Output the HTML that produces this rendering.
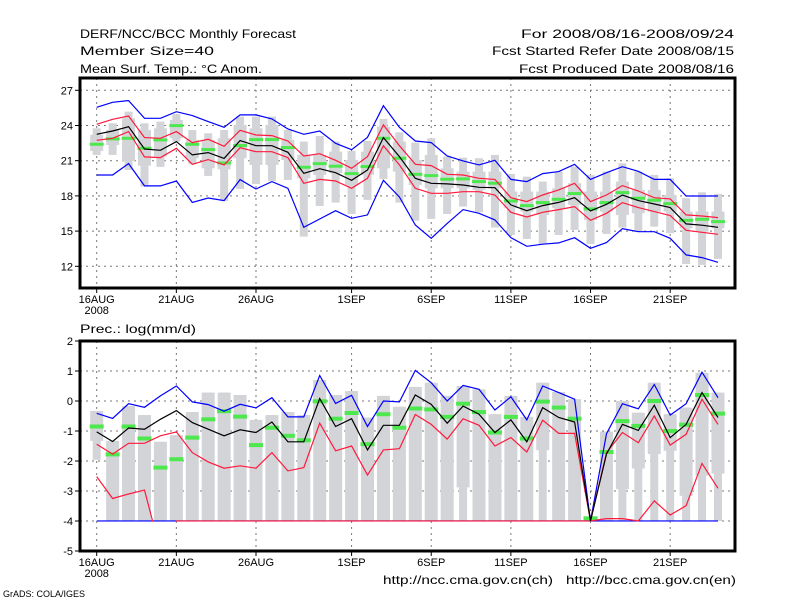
<!DOCTYPE html>
<html><head><meta charset="utf-8"><style>
html,body{margin:0;padding:0;background:#fff;}
svg{display:block;font-family:"Liberation Sans",sans-serif;}
</style></head><body>
<svg id="chart" width="800" height="600" viewBox="0 0 800 600">
<rect width="800" height="600" fill="#fff"/>
<g font-size="12" fill="#000">
<text x="80" y="38" textLength="216" lengthAdjust="spacingAndGlyphs">DERF/NCC/BCC Monthly Forecast</text>
<text x="80" y="55" textLength="134" lengthAdjust="spacingAndGlyphs">Member Size=40</text>
<text x="80" y="73" textLength="182" lengthAdjust="spacingAndGlyphs">Mean Surf. Temp.: °C Anom.</text>
<text x="521" y="38" textLength="213" lengthAdjust="spacingAndGlyphs">For 2008/08/16-2008/09/24</text>
<text x="492" y="55" textLength="242" lengthAdjust="spacingAndGlyphs">Fcst Started Refer Date 2008/08/15</text>
<text x="519" y="73" textLength="215" lengthAdjust="spacingAndGlyphs">Fcst Produced Date 2008/08/16</text>
<text x="80" y="333" textLength="116" lengthAdjust="spacingAndGlyphs">Prec.: log(mm/d)</text>
<text x="383" y="584" textLength="170" lengthAdjust="spacingAndGlyphs">http://ncc.cma.gov.cn(ch)</text>
<text x="566" y="584" textLength="170" lengthAdjust="spacingAndGlyphs">http://bcc.cma.gov.cn(en)</text>
<text x="3" y="597" font-size="9">GrADS: COLA/IGES</text>
</g>
<g id="topPanel"></g>
<g id="botPanel"></g>
</svg>
<script>
// ---- x axis ----
const dayLabels = ["16AUG","21AUG","26AUG","1SEP","6SEP","11SEP","16SEP","21SEP"];
const dayLabelIdx = [0,5,10,16,21,26,31,36];
const nDays = 40;
// ---- top panel (temperature) ----
const tTicks = [27,24,21,18,15,12];
const tMean = [23.25,23.53,23.9,22.0,21.89,22.63,21.49,21.69,21.2,22.71,22.28,22.28,21.72,19.93,20.32,19.98,19.33,20.21,22.97,21.35,19.5,19.07,19.02,18.93,18.73,18.7,17.23,16.74,17.17,17.45,17.85,16.72,17.28,18.08,17.6,17.31,17.0,15.61,15.5,15.32];
const tRedHi = [24.1,24.53,24.81,22.97,22.91,23.48,22.54,22.82,22.23,23.59,23.19,23.14,22.68,21.4,21.6,21.03,20.35,21.35,24.05,22.28,20.69,20.58,19.84,19.78,19.5,19.41,17.85,17.51,18.08,18.51,19.07,17.51,18.08,18.88,18.42,17.85,17.74,16.38,16.29,16.15];
const tRedLo = [22.74,22.91,23.48,21.32,21.26,22.06,20.69,21.09,20.64,22.11,21.77,21.77,21.26,19.07,19.41,19.27,18.65,19.5,22.28,20.64,18.65,18.22,18.22,18.36,18.36,18.08,16.6,16.2,16.6,16.83,17.09,15.92,16.52,17.43,17.0,16.66,16.32,15.07,14.9,14.73];
const tBlueHi = [25.55,25.98,26.12,24.61,24.61,25.18,24.84,24.33,23.85,24.9,24.9,24.56,23.7,23.25,23.53,22.48,21.94,22.99,25.69,23.85,22.68,22.54,21.4,20.98,20.64,21.03,19.41,19.22,19.9,20.07,20.69,19.41,19.98,20.49,20.1,19.41,19.41,17.99,17.99,17.99];
const tBlueLo = [19.78,19.78,20.75,18.85,18.85,19.27,17.45,17.82,17.6,19.39,18.59,19.22,18.65,15.32,16.03,16.74,16.09,16.38,19.33,17.91,15.52,14.39,15.66,16.83,16.52,15.95,14.44,13.7,13.88,13.99,14.44,13.53,14.02,15.21,14.95,14.95,14.39,12.97,12.74,12.34];
const tWhiskHi = [23.76,24.19,25.18,24.19,24.33,24.96,23.62,23.34,23.62,24.76,24.76,24.76,23.62,22.63,23.11,22.63,21.83,22.68,24.56,23.42,22.54,22.91,21.35,21.26,21.21,21.49,19.87,19.64,19.22,20.07,20.5,19.79,20.07,20.78,20.07,19.79,19.5,17.8,18.31,18.17];
const tWhiskLo = [21.49,21.49,20.21,18.79,20.47,22.63,20.7,19.7,17.57,18.59,19.02,19.28,19.36,14.53,17.14,17.43,16.46,17.66,19.45,17.43,15.89,16.04,16.46,17.09,16.6,15.3,14.67,14.33,13.88,14.67,15.1,13.91,14.76,15.3,15.01,15.38,14.82,12.2,12.12,12.63];
const tBoxHi = [23.2,23.62,24.62,23.62,23.76,24.47,22.77,22.77,22.91,24.05,23.76,24.05,22.77,21.49,21.49,21.77,21.06,21.77,23.91,22.63,21.06,21.49,20.35,20.07,20.07,20.07,18.37,18.37,18.37,18.65,19.08,18.37,18.37,19.22,18.51,18.51,18.08,16.66,16.66,16.66];
const tBoxLo = [21.83,22.34,20.98,20.58,21.35,22.91,21.21,20.35,20.27,21.21,20.64,20.64,21.06,19.5,19.79,19.93,18.93,19.79,20.35,20.07,18.93,18.65,18.65,18.65,18.51,18.65,16.95,16.66,16.38,16.95,17.23,15.95,16.66,16.38,16.52,16.66,16.66,15.24,14.96,15.24];
const tMedian = [22.4,22.86,22.91,22.06,22.77,23.99,22.4,21.95,20.81,22.29,22.8,22.8,22.12,20.44,20.75,20.53,19.9,20.5,22.91,21.21,19.84,19.73,19.42,19.45,19.22,19.08,17.57,17.17,17.43,17.71,18.2,16.89,17.43,18.28,17.8,17.63,17.34,15.92,16.01,15.81];
// ---- bottom panel (precip) ----
const pTicks = [2,1,0,-1,-2,-3,-4,-5];
const pMean = [-1.03,-1.35,-0.9,-0.94,-0.61,-0.32,-0.72,-0.94,-1.16,-0.96,-1.05,-0.7,-1.36,-1.36,0.08,-0.85,-0.59,-1.63,-0.81,-0.81,0.2,-0.11,-0.74,-0.17,-0.44,-1.05,-0.63,-1.36,-0.22,-0.55,-0.7,-4.0,-1.77,-0.78,-0.98,-0.14,-1.22,-0.78,0.28,-0.55];
const pBlueHi = [-0.41,-0.58,-0.09,-0.21,0.17,0.5,-0.03,-0.12,-0.34,-0.11,-0.23,0.11,-0.53,-0.53,0.85,-0.08,0.19,-0.85,0,-0.03,1.02,0.61,0,0.52,0.39,-0.3,0.14,-0.63,0.5,0.28,0.06,-4,-1.09,-0.09,-0.26,0.55,-0.47,-0.09,0.96,0.11];
const pRedHi = [-1.44,-1.77,-1.41,-1.41,-1.16,-1.03,-1.72,-2.03,-2.24,-2.16,-2.24,-1.72,-2.33,-2.22,-0.74,-1.66,-1.5,-2.47,-1.63,-1.59,-0.45,-0.78,-1.27,-0.59,-0.81,-1.5,-1.22,-1.7,-0.64,-1.08,-1.08,-4,-1.72,-1.05,-1.39,-0.5,-1.47,-1.11,0.06,-0.78];
const pRedLo = [-2.52,-3.25,-3.1,-2.97,-5,-4,-4,-4,-4,-4,-4,-4,-4,-4,-4,-4,-4,-4,-4,-4,-4,-4,-4,-4,-4,-4,-4,-4,-4,-4,-4,-4,-3.92,-3.92,-4,-3.33,-3.8,-3.49,-2.08,-2.91];
const pBlueLo = [-4,-4,-4,-4,-4,-4,-4,-4,-4,-4,-4,-4,-4,-4,-4,-4,-4,-4,-4,-4,-4,-4,-4,-4,-4,-4,-4,-4,-4,-4,-4,-4,-4,-4,-4,-4,-4,-4,-4,-4];
const pBoxHi = [-0.33,-1.33,-0.17,-0.47,-1.36,-1.14,-0.37,0.28,0.28,0.2,-0.63,-0.47,-0.37,-0.47,0.7,0.2,0.33,-0.55,0.17,-0.19,0.47,0.61,0.17,0.5,0.39,-0.44,0.17,-0.53,0.61,0.3,0.06,-3.85,-1.02,0,-0.39,0.61,-0.44,-0.22,0.94,0.28];
const pBoxLo = [-1.33,-4,-4,-4,-4,-4,-4,-4,-4,-4,-4,-4,-4,-4,-4,-4,-4,-4,-4,-4,-4,-4,-4,-2.88,-4,-4,-4,-4,-1.64,-4,-4,-4,-4,-2.94,-2.25,-1.77,-1.66,-3.16,-2.49,-2.42];
const pWhiskLo = [-1.96,-4,-4,-4,-4,-4,-4,-4,-4,-4,-4,-4,-4,-4,-4,-4,-4,-4,-4,-4,-4,-4,-4,-4,-4,-4,-4,-4,-4,-4,-4,-4,-4,-4,-4,-4,-4,-4,-4,-4];
const pMedian = [-0.85,-1.78,-0.85,-1.25,-2.22,-1.94,-1.22,-0.61,-0.34,-0.52,-1.47,-0.89,-1.16,-1.31,-0.01,-0.59,-0.4,-1.44,-0.44,-0.89,-0.25,-0.28,-0.53,-0.09,-0.37,-1.05,-0.53,-1.25,-0.02,-0.22,-0.59,-3.91,-1.7,-0.67,-0.83,0,-1.0,-0.79,0.2,-0.42];

const NS='http://www.w3.org/2000/svg';
const L=80,R=735;
function xs(d){return 96.7+15.93*d;}
function yT(v){return 90.3+(27-v)*11.733;}
function yP(v){return 341+(2-v)*30;}
function mk(tag,attrs,parent){const e=document.createElementNS(NS,tag);for(const k in attrs)e.setAttribute(k,attrs[k]);parent.appendChild(e);return e;}

function panel(g,id,y0,y1,ys,ticks,nm){
  const cp=mk('clipPath',{id:id},g);
  mk('rect',{x:L,y:y0,width:R-L,height:y1-y0},cp);
  ticks.forEach(t=>{
    const y=ys(t);
    if(y>y0+2&&y<y1-2){
      const gl=mk('line',{x1:L,x2:R,y1:y,y2:y,stroke:'#777','stroke-width':1,'stroke-dasharray':'2,4'},g);
      
      
    }
    const tk=mk('line',{x1:L-5,x2:L,y1:y,y2:y,stroke:'#000'},g);
    
    
    const tl=mk('text',{x:L-7,y:y+4,'text-anchor':'end','font-size':11},g);
    tl.textContent=t;
    
    
  });
  dayLabelIdx.forEach((d,i)=>{
    const x=xs(d);
    const gl=mk('line',{x1:x,x2:x,y1:y0,y2:y1,stroke:'#777','stroke-width':1,'stroke-dasharray':'2,4'},g);
    
    
    const tk=mk('line',{x1:x,x2:x,y1:y1,y2:y1+5,stroke:'#000'},g);
    
    
    const tl=mk('text',{x:x,y:y1+15,'text-anchor':'middle','font-size':11},g);
    tl.textContent=dayLabels[i];
    
    
    if(i===0){
      const yl=mk('text',{x:x,y:y1+26,'text-anchor':'middle','font-size':11},g);
      yl.textContent='2008';
      
      
    }
  });
  return mk('g',{'clip-path':'url(#'+id+')'},g);
}

function boxes(g,ys,bh,bl,wh,wl,nm){
  for(let d=0;d<nDays;d++){
    const x=xs(d);
    const w=mk('rect',{x:x-4,y:ys(wh[d]),width:8,height:Math.max(0,ys(wl[d])-ys(wh[d])),fill:'#d3d4d8'},g);
    
    
    const b=mk('rect',{x:x-6.5,y:ys(bh[d]),width:13,height:Math.max(0,ys(bl[d])-ys(bh[d])),fill:'#d3d4d8'},g);
    
    
  }
}
function medians(g,ys,arr,h,nm){
  arr.forEach((v,d)=>{
    const m=mk('rect',{x:xs(d)-7,y:ys(v)-h/2,width:14,height:h,fill:'#4de84d'},g);
    
    
  });
}
function line(g,ys,arr,color,nm){
  const pts=arr.map((v,d)=>xs(d).toFixed(1)+','+ys(v).toFixed(1)).join(' ');
  const p=mk('polyline',{points:pts,fill:'none',stroke:color,'stroke-width':1.2},g);
  
  
}

const topG=document.getElementById('topPanel');
const dT=panel(topG,'clipT',78,288,yT,tTicks,'temp');
boxes(dT,yT,tBoxHi,tBoxLo,tWhiskHi,tWhiskLo,'temp');
medians(dT,yT,tMedian,3,'temp');
line(dT,yT,tBlueHi,'#0000ff','temp-max-line');
line(dT,yT,tBlueLo,'#0000ff','temp-min-line');
line(dT,yT,tRedHi,'#ff1a3c','temp-upper-line');
line(dT,yT,tRedLo,'#ff1a3c','temp-lower-line');
line(dT,yT,tMean,'#000','temp-mean-line');
const ft=mk('rect',{x:L,y:78,width:R-L,height:210,fill:'none',stroke:'#000','stroke-width':3},topG);



const botG=document.getElementById('botPanel');
const dP=panel(botG,'clipP',341,551,yP,pTicks,'precip');
const pc=mk('clipPath',{id:'clipP4'},botG);
mk('rect',{x:L,y:341,width:R-L,height:yP(-4)-341+0.6},pc);
boxes(dP,yP,pBoxHi,pBoxLo,pBoxHi,pWhiskLo,'precip');
medians(dP,yP,pMedian,4,'precip');
const d4=mk('g',{'clip-path':'url(#clipP4)'},dP);
line(d4,yP,pBlueLo,'#0000ff','precip-min-line');
line(d4,yP,pRedLo,'#ff1a3c','precip-lower-line');
line(dP,yP,pBlueHi,'#0000ff','precip-max-line');
line(dP,yP,pRedHi,'#ff1a3c','precip-upper-line');
line(dP,yP,pMean,'#000','precip-mean-line');
const fb=mk('rect',{x:L,y:341,width:R-L,height:210,fill:'none',stroke:'#000','stroke-width':3},botG);


</script>
</body></html>
